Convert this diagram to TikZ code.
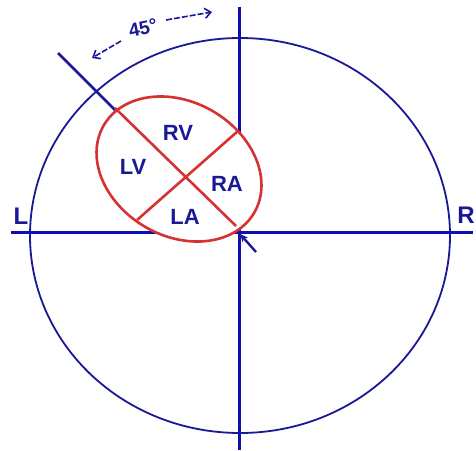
\documentclass[tikz,border=0pt]{standalone}
\usepackage{fontspec}
\setmainfont{Liberation Sans}
\usetikzlibrary{arrows.meta}
\definecolor{navy}{RGB}{25,25,150}
\definecolor{axisblue}{RGB}{15,15,175}
\definecolor{heartred}{RGB}{215,50,50}
\tikzset{
  axis/.style={draw=axisblue,line width=3pt},
  ring/.style={draw=navy,line width=1.8pt},
  heart/.style={draw=heartred,line width=2.6pt},
  lbl/.style={text=navy,font=\bfseries\fontsize{22}{22}\selectfont,inner sep=0pt},
  dasharrow/.style={draw=navy,line width=1.6pt,dash pattern=on 6pt off 2pt,-{Straight Barb[length=6pt,width=10pt]}}
}
\begin{document}
\begin{tikzpicture}[x=1pt,y=-1pt]
\useasboundingbox (0,0) rectangle (476,450);
\fill[white] (0,0) rectangle (476,450);
% big circle
\draw[ring] (240,235.5) ellipse [x radius=210pt, y radius=197.5pt];
% axes
\coordinate (hl) at (11,232);
\coordinate (hr) at (473,232);
\coordinate (vt) at (239,7);
\coordinate (vb) at (239,450);
\draw[axis] (hl) -- (hr);
\draw[axis] (vt) -- (vb);
% 45 degree tick line
\coordinate (t1) at (58,53);
\coordinate (t2) at (118,113);
\draw[draw=navy,line width=2.6pt] (t1) -- (t2);
% heart ellipse
\fill[white,rotate around={-30:(179,169)}] (179,169) ellipse [x radius=87pt, y radius=67pt];
\coordinate (a1) at (115,108);
\coordinate (a2) at (236,226);
\coordinate (b1) at (238,131);
\coordinate (b2) at (137,220);
\draw[heart] (a1) -- (a2);
\draw[heart] (b1) -- (b2);
\draw[heart,rotate around={-30:(179,169)}] (179,169) ellipse [x radius=87pt, y radius=67pt];
% small arrow at bottom right
\coordinate (s1) at (256,252);
\coordinate (s2) at (240,234);
\draw[draw=navy,line width=2.4pt,-{Stealth[length=8pt,width=7pt]}] (s1) -- (s2);
% labels
\node[lbl] (rv) at (178,133) {RV};
\node[lbl] (lv) at (133,167) {LV};
\node[lbl] (ra) at (227,184) {RA};
\node[lbl] (la) at (185,217) {LA};
\node[lbl,font=\bfseries\fontsize{24}{24}\selectfont] (L) at (21,216) {L};
\node[lbl,font=\bfseries\fontsize{24}{24}\selectfont,anchor=east] (R) at (475,215) {R};
\node[lbl,font=\bfseries\fontsize{19}{19}\selectfont,rotate=12] (deg) at (143,28) {45°};
% 45 arrows
\coordinate (la1) at (121,41);
\coordinate (la2) at (92,58);
\coordinate (ra1) at (166,20);
\coordinate (ra2) at (212,12);
\draw[dasharrow] (la1) -- (la2);
\draw[dasharrow] (ra1) -- (ra2);
\end{tikzpicture}
\end{document}
